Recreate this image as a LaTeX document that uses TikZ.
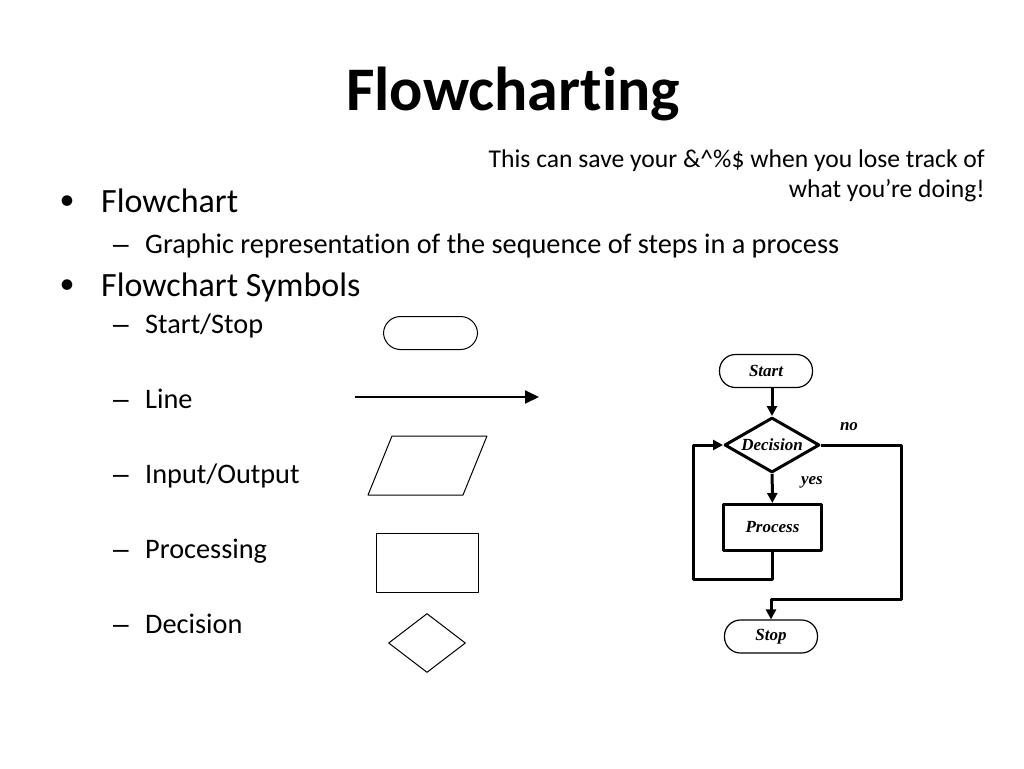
\documentclass[tikz,border=0pt]{standalone}
\usepackage{fontspec}
\setmainfont{Carlito}[Ligatures={NoCommon}]
\newfontfamily\tnr{Liberation Serif}
\newfontfamily\dshfont{Liberation Sans}
\usetikzlibrary{arrows.meta}
\usetikzlibrary{shapes.geometric}
\tikzset{ttl/.style={font=\fontsize{62}{62}\selectfont\bfseries, anchor=base, inner sep=0}}
\tikzset{l/.style={font=\fontsize{34}{34}\selectfont, anchor=base west, inner sep=0}}
\tikzset{m/.style={font=\fontsize{28.3}{28.3}\selectfont, anchor=base west, inner sep=0}}
\tikzset{n/.style={font=\fontsize{25.6}{25.6}\selectfont, anchor=base east, inner sep=0}}
\tikzset{bul/.style={font=\fontsize{30}{30}\selectfont, anchor=base, inner sep=0}}
\tikzset{dsh/.style={font=\dshfont\fontsize{28}{28}\selectfont, anchor=base, inner sep=0}}
\tikzset{fc/.style={font=\tnr\bfseries\itshape\fontsize{17}{17}\selectfont}}
\tikzset{trm/.style={draw, fc, rounded corners=16pt, minimum width=93pt, minimum height=33pt, line width=1.2pt}}
\tikzset{prc/.style={draw, fc, minimum width=98pt, minimum height=46pt, line width=3pt}}
\tikzset{dcs/.style={draw, fc, diamond, aspect=1.7, inner sep=0, minimum width=95pt, minimum height=55pt, line width=3pt}}
\tikzset{flow/.style={line width=3pt, -{Triangle[length=10pt,width=10pt]}}}
\tikzset{sym/.style={draw, line width=1pt, inner sep=0}}

\begin{document}
\begin{tikzpicture}[x=1pt,y=-1pt,line join=round]
  \useasboundingbox (0,0) rectangle (1024,768);
  % title and note
  \node[ttl] (title) at (513,110) {Flowcharting};
  \node[n] (note1) at (985,167) {This can save your \&\^{}\%\$ when you lose track of};
  \node[n] (note2) at (985,197) {what you’re doing!};
  % bullets
  \node[bul] (b1) at (67,209) {•};
  \node[l] (t1) at (101,212) {Flowchart};
  \node[dsh] (d1) at (121,253) {–};
  \node[m] (t1a) at (145,253) {Graphic representation of the sequence of steps in a process};
  \node[bul] (b2) at (67,293) {•};
  \node[l] (t2) at (101,296) {Flowchart Symbols};
  \node[dsh] (d2) at (121,333) {–};
  \node[m] (t2a) at (145,333) {Start/Stop};
  \node[dsh] (d3) at (121,408) {–};
  \node[m] (t2b) at (145,408) {Line};
  \node[dsh] (d4) at (121,483) {–};
  \node[m] (t2c) at (145,483) {Input/Output};
  \node[dsh] (d5) at (121,558) {–};
  \node[m] (t2d) at (145,558) {Processing};
  \node[dsh] (d6) at (121,633) {–};
  \node[m] (t2e) at (145,633) {Decision};
  % symbols
  \node[sym, rounded corners=17pt, minimum width=94pt, minimum height=33pt] (symtrm) at (430.5,333) {};
  \coordinate (linea) at (355,397);
  \coordinate (lineb) at (539,397);
  \draw[line width=2pt, -{Triangle[length=14pt,width=13pt]}] (linea) -- (lineb);
  \draw[line width=1pt] (392,436)--(487,436)--(463,495)--(368,495)--cycle;
  \node[sym, minimum width=102pt, minimum height=59pt] (symprc) at (427.5,563) {};
  \node[sym, diamond, minimum width=77pt, minimum height=59pt] (symdcs) at (427,643) {};
  % flowchart
  \node[trm] (start) at (766,371) {Start};
  \node[dcs] (dec) at (772,445) {Decision};
  \node[prc] (proc) at (772.5,527.5) {Process};
  \node[trm] (stop) at (771,636.5) {Stop};
  \draw[flow] (dec.north |- start.south) -- (dec.north);
  \draw[flow] (dec) -- node[fc, pos=0.3, right=24pt] (yes) {yes} (proc);
  \draw[flow] (proc.south) -- ++(0,27) -| ([xshift=-30pt]dec.west) -- (dec.west);
  \draw[flow] (dec.east) -- node[fc, pos=0.35, above=10pt] (no) {no} ++(80,0) -- ++(0,154) -| (stop.north);
\end{tikzpicture}
\end{document}
